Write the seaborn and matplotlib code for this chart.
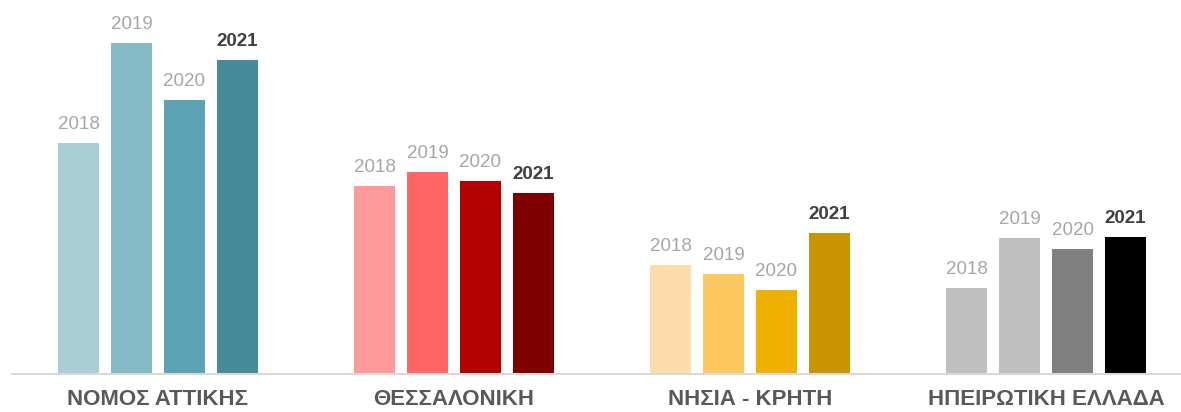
import matplotlib
matplotlib.use("Agg")
import matplotlib.pyplot as plt
import pandas as pd
import seaborn as sns

regions = ["ΝΟΜΟΣ ΑΤΤΙΚΗΣ", "ΘΕΣΣΑΛΟΝΙΚΗ", "ΝΗΣΙΑ - ΚΡΗΤΗ", "ΗΠΕΙΡΩΤΙΚΗ ΕΛΛΑΔΑ"]
years = ["2018", "2019", "2020", "2021"]

# values per region, in the order of years
attiki = [231, 331, 274, 314]
thessaloniki = [188, 202, 193, 181]
nisia = [109, 100, 84, 141]
ipeiros = [86, 136, 125, 137]

# colours per region (one shade per year)
colors = {
    "ΝΟΜΟΣ ΑΤΤΙΚΗΣ": ["#A9CED6", "#84BAC6", "#5BA2B2", "#478A99"],
    "ΘΕΣΣΑΛΟΝΙΚΗ": ["#FF9A9A", "#FF6666", "#B30000", "#800000"],
    "ΝΗΣΙΑ - ΚΡΗΤΗ": ["#FDDCAB", "#FDC860", "#F0B000", "#C99400"],
    "ΗΠΕΙΡΩΤΙΚΗ ΕΛΛΑΔΑ": ["#BFBFBF", "#BFBFBF", "#808080", "#000000"],
}

rows = []
for reg, vals in zip(regions, [attiki, thessaloniki, nisia, ipeiros]):
    for yr, v in zip(years, vals):
        rows.append({"region": reg, "year": yr, "value": v})
df = pd.DataFrame(rows)

sns.set_theme(style="white")
plt.rcParams['font.family'] = ['Liberation Sans', 'DejaVu Sans']

fig = plt.figure(figsize=(11.81, 4.12), dpi=100)
ax = fig.add_axes([0.0102, 0.0922, 0.9898, 0.9078])

sns.barplot(data=df, x="region", y="value", hue="year", order=regions,
            hue_order=years, width=0.716, gap=0.21, legend=False, ax=ax,
            palette=["#999999"] * 4, saturation=1)

# recolour every bar by its region and year
for j, container in enumerate(ax.containers):
    for i, patch in enumerate(container.patches):
        patch.set_facecolor(colors[regions[i]][j])
        patch.set_edgecolor("none")
    last = (j == len(years) - 1)
    ax.bar_label(container, labels=[years[j]] * len(regions), padding=7,
                 fontsize=13.5, color="#404040" if last else "#A6A6A6",
                 fontweight="bold" if last else "normal")

ax.set_xlim(-0.493, 3.456)
ax.set_ylim(0, 374)
ax.set_xlabel("")
ax.set_ylabel("")
ax.set_yticks([])
for side in ["top", "right", "left"]:
    ax.spines[side].set_visible(False)
ax.spines["bottom"].set_color("#D9D9D9")
ax.spines["bottom"].set_linewidth(1.5)
ax.tick_params(axis="x", length=0, pad=11)
for lbl in ax.get_xticklabels():
    lbl.set_fontsize(16)
    lbl.set_fontweight("bold")
    lbl.set_color("#595959")

fig.savefig("out.png", dpi=100)
